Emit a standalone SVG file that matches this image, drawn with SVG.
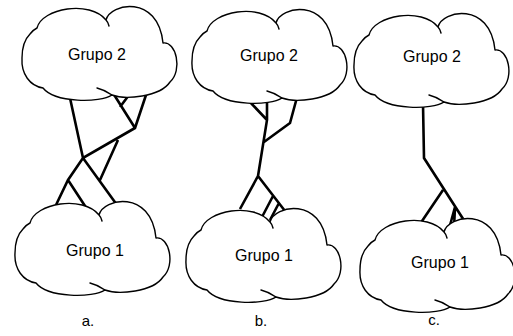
<svg xmlns="http://www.w3.org/2000/svg" xmlns:xlink="http://www.w3.org/1999/xlink" width="513" height="336" viewBox="0 0 513 336">
<style>
.cloud{fill:#fff;stroke:#000;stroke-width:1.4;stroke-linejoin:round;stroke-linecap:round}
.con{fill:none;stroke:#000;stroke-width:2.6;stroke-linejoin:miter;stroke-linecap:butt}
.t{font-family:"Liberation Sans",Arial,sans-serif;font-size:16px;fill:#000;text-anchor:middle}
.l{font-family:"Liberation Sans",Arial,sans-serif;font-size:15px;fill:#000;text-anchor:middle}
</style>
<defs>
<path id="cloud" d="M43,88 C30,86 21,74 22,58 C22,48 24,40 30,34 Q33,30 37,28 C42,8 90,0 106,20 C110,3 158,-6 163,43 C176,41 183,70 170,82 C160,97 125,100 112,95 C100,103 55,103 43,88 Z M106,20 Q108,22 109,26 M97,88 Q105,90 112,95"/>
</defs>
<rect width="513" height="336" fill="#fff"/>
<g id="connectors">
<path class="con" d="M70,98 L83,158 L135,128 L149,86 M113,93 L135,128 M120,107 L132,91 M118,140 L100,180 M83,158 L68,180 L56,205 M83,158 L117,205 M68,180 L87,209"/>
<path class="con" d="M267,98 L267,120 L258,176 M250,102 L267,120 M299,90 L290,123 L264,142 M258,176 L240,209 M258,176 L285,211 M273,196 L262,217 M279,203 L270,220"/>
<path class="con" d="M423,104 L424,158 L467,225 M443,190 L420,224 M455,207 L449,229 M455,207 L454,228"/>
</g>
<g id="grupo2a"><use xlink:href="#cloud" class="cloud"/><text class="t" x="97" y="60">Grupo 2</text></g>
<g id="grupo1a"><use xlink:href="#cloud" class="cloud" transform="translate(-7,195)"/><text class="t" x="95" y="256">Grupo 1</text></g>
<g id="grupo2b"><use xlink:href="#cloud" class="cloud" transform="translate(170,3)"/><text class="t" x="269" y="61">Grupo 2</text></g>
<g id="grupo1b"><use xlink:href="#cloud" class="cloud" transform="translate(164,202)"/><text class="t" x="264" y="261">Grupo 1</text></g>
<g id="grupo2c"><use xlink:href="#cloud" class="cloud" transform="translate(332,7)"/><text class="t" x="432" y="62">Grupo 2</text></g>
<g id="grupo1c"><use xlink:href="#cloud" class="cloud" transform="translate(338,212)"/><text class="t" x="440" y="268">Grupo 1</text></g>
<g id="labels">
<text class="l" x="88" y="326">a.</text>
<text class="l" x="261" y="326">b.</text>
<text class="l" x="434" y="325">c.</text>
</g>
</svg>
